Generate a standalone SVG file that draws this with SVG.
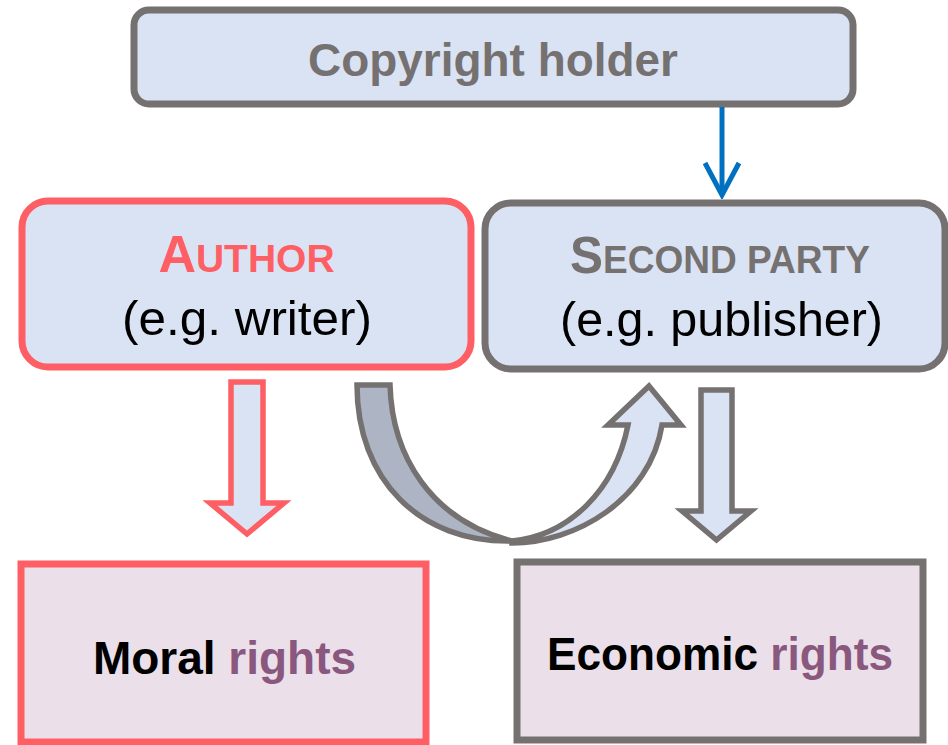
<svg xmlns="http://www.w3.org/2000/svg" width="948" height="745" viewBox="0 0 948 745">
<style>
.box{fill:#DAE3F3}
.gray{stroke:#767171}
.red{stroke:#FE5F64}
.right{fill:#EBE0E9;stroke-width:7}
.t{font-family:"Liberation Sans",Arial,sans-serif}
.b{font-weight:bold}
.gt{fill:#767171}
.rt{fill:#FE5F64}
.pt{fill:#8A587E}
.blk{fill:#000}
.conn{stroke-width:5.5;stroke-linejoin:miter}
</style>
<defs>
<marker id="blueHead" markerUnits="userSpaceOnUse" markerWidth="40" markerHeight="40" refX="36" refY="20" orient="auto" viewBox="0 0 40 40">
<polyline points="4,3 36,20 4,37" fill="none" stroke="#0070C0" stroke-width="5" stroke-linejoin="miter"/>
</marker>
</defs>
<rect width="948" height="745" fill="#FFFFFF"/>
<g id="copyright-holder">
<rect class="box gray" x="134" y="10" width="719" height="94" rx="15" stroke-width="7"/>
<text class="t b gt" x="493" y="76" font-size="46" text-anchor="middle" textLength="370" lengthAdjust="spacingAndGlyphs">Copyright holder</text>
</g>
<g id="author">
<rect class="box red" x="22" y="201" width="449" height="166" rx="26" stroke-width="7"/>
<text class="t b rt" x="246.5" y="272" text-anchor="middle"><tspan font-size="52">A</tspan><tspan font-size="39">UTHOR</tspan></text>
<text class="t blk" x="247" y="335" font-size="48" text-anchor="middle" textLength="250" lengthAdjust="spacingAndGlyphs">(e.g. writer)</text>
</g>
<g id="second-party">
<rect class="box gray" x="485" y="203" width="460" height="166" rx="26" stroke-width="7"/>
<text class="t b gt" x="720" y="273" text-anchor="middle" textLength="300" lengthAdjust="spacingAndGlyphs"><tspan font-size="52">S</tspan><tspan font-size="39">ECOND PARTY</tspan></text>
<text class="t blk" x="721.5" y="336" font-size="48" text-anchor="middle" textLength="323" lengthAdjust="spacingAndGlyphs">(e.g. publisher)</text>
</g>
<g id="moral-rights">
<rect class="right red" x="21" y="564" width="405" height="178"/>
<text class="t b" x="224.5" y="674" font-size="46" text-anchor="middle"><tspan class="blk">Moral </tspan><tspan class="pt">rights</tspan></text>
</g>
<g id="economic-rights">
<rect class="right gray" x="517" y="562" width="406" height="178"/>
<text class="t b" x="720" y="670" font-size="46" text-anchor="middle" textLength="346" lengthAdjust="spacingAndGlyphs"><tspan class="blk">Economic </tspan><tspan class="pt">rights</tspan></text>
</g>
<g id="connectors">
<line x1="722" y1="107" x2="722" y2="195" stroke="#0070C0" stroke-width="5" marker-end="url(#blueHead)"/>
<polygon class="red conn" fill="#DAE3F3" points="231,382 263,382 263,503 284,503 247,534 210,503 231,503"/>
<polygon class="gray conn" fill="#DAE3F3" points="701,390 732,390 732,511 751,511 716.5,540 682,511 701,511"/>
<path class="gray conn" fill="#ADB5C4" d="M357,385 L390,385 C392,455 430,520 512,541 C420,543 357,480 357,385 Z"/>
<path class="gray conn" fill="#DAE3F3" d="M512,543 C575,543 650,500 662,425 L681,425 L649,386 L608,425 L628,425 C615,490 570,535 512,541 Z"/>
</g>
</svg>
